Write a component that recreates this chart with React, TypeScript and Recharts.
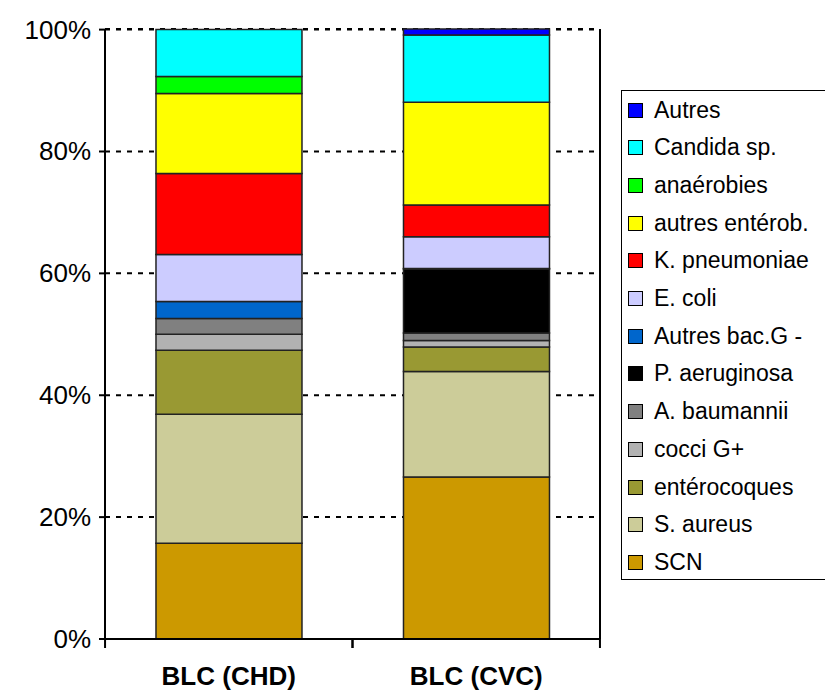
import React from 'react';
import { BarChart, Bar, XAxis, YAxis, CartesianGrid } from 'recharts';

const categories = ['BLC (CHD)', 'BLC (CVC)'];
// stacking order bottom -> top
const seriesNames = [
  'SCN', 'S. aureus', 'entérocoques', 'cocci G+', 'A. baumannii', 'P. aeruginosa',
  'Autres bac.G -', 'E. coli', 'K. pneumoniae', 'autres entérob.', 'anaérobies', 'Candida sp.', 'Autres',
];
const colors = [
  '#CC9900', '#CCCC99', '#999933', '#B2B2B2', '#808080', '#000000',
  '#0066CC', '#CCCCFF', '#FF0000', '#FFFF00', '#00FF00', '#00FFFF', '#0000FF',
];
const chdValues = [15.7, 21.2, 10.5, 2.6, 2.6, 0, 2.8, 7.7, 13.3, 13.1, 2.8, 7.7, 0];
const cvcValues = [26.6, 17.3, 4.0, 1.1, 1.2, 10.5, 0.1, 5.2, 5.2, 16.9, 0, 11.0, 1.0];
const yTicks = [0, 20, 40, 60, 80, 100];

const data = categories.map((c, i) => {
  const vals = i === 0 ? chdValues : cvcValues;
  const row: Record<string, number | string> = { name: c };
  seriesNames.forEach((s, j) => { row[s] = vals[j]; });
  return row;
});

const font = 'Arial, "Liberation Sans", sans-serif';

const XTick = (props: any) => {
  const { x, y, payload } = props;
  const half = 123.7;
  return (
    <g>
      <line x1={x - half} y1={y - 8} x2={x - half} y2={y + 1} stroke="#000" strokeWidth={2} />
      <line x1={x + half} y1={y - 8} x2={x + half} y2={y + 1} stroke="#000" strokeWidth={2} />
      <text x={x} y={y + 38} textAnchor="middle" fontFamily={font} fontSize={26} fontWeight="bold" fill="#000">
        {payload.value}
      </text>
    </g>
  );
};

const YTick = (props: any) => {
  const { x, y, payload } = props;
  return (
    <text x={x - 6} y={y + 9} textAnchor="end" fontFamily={font} fontSize={26} fill="#000">
      {payload.value}%
    </text>
  );
};

export default function App() {
  return (
    <div style={{ position: 'absolute', left: 0, top: 0, width: 825, height: 697, background: '#fff' }}>
      <BarChart width={825} height={697} data={data} margin={{ top: 29, right: 225, bottom: 0, left: 0 }}
        barCategoryGap="20.6%">
        <CartesianGrid vertical={false} stroke="#000" strokeDasharray="5 6" strokeWidth={2} />
        <XAxis dataKey="name" stroke="#000" strokeWidth={2} tickLine={false} tick={<XTick />} interval={0} height={58} />
        <YAxis width={105} domain={[0, 100]} ticks={yTicks} stroke="#000" strokeWidth={2} tickSize={6} tick={<YTick />} />
        {seriesNames.map((s, j) => (
          <Bar key={s} dataKey={s} stackId="a" fill={colors[j]} stroke="#222" strokeWidth={1.5}
            isAnimationActive={false} />
        ))}
      </BarChart>
      <div style={{ position: 'absolute', left: 599, top: 29, width: 2, height: 610, background: '#000' }} />
      <div style={{
        position: 'absolute', left: 621, top: 90, width: 220, height: 490, border: '1px solid #000',
        boxSizing: 'border-box', background: '#fff', fontFamily: font, fontSize: 23,
      }}>
        {[...seriesNames].reverse().map((s, k) => {
          const j = seriesNames.length - 1 - k;
          return (
            <div key={s} style={{ position: 'absolute', left: 6, top: 6 + k * 37.7, display: 'flex', alignItems: 'center', height: 26 }}>
              <span style={{ width: 13, height: 13, background: colors[j], border: '1px solid #000', marginRight: 11, display: 'inline-block' }} />
              <span style={{ whiteSpace: 'nowrap' }}>{s}</span>
            </div>
          );
        })}
      </div>
    </div>
  );
}
